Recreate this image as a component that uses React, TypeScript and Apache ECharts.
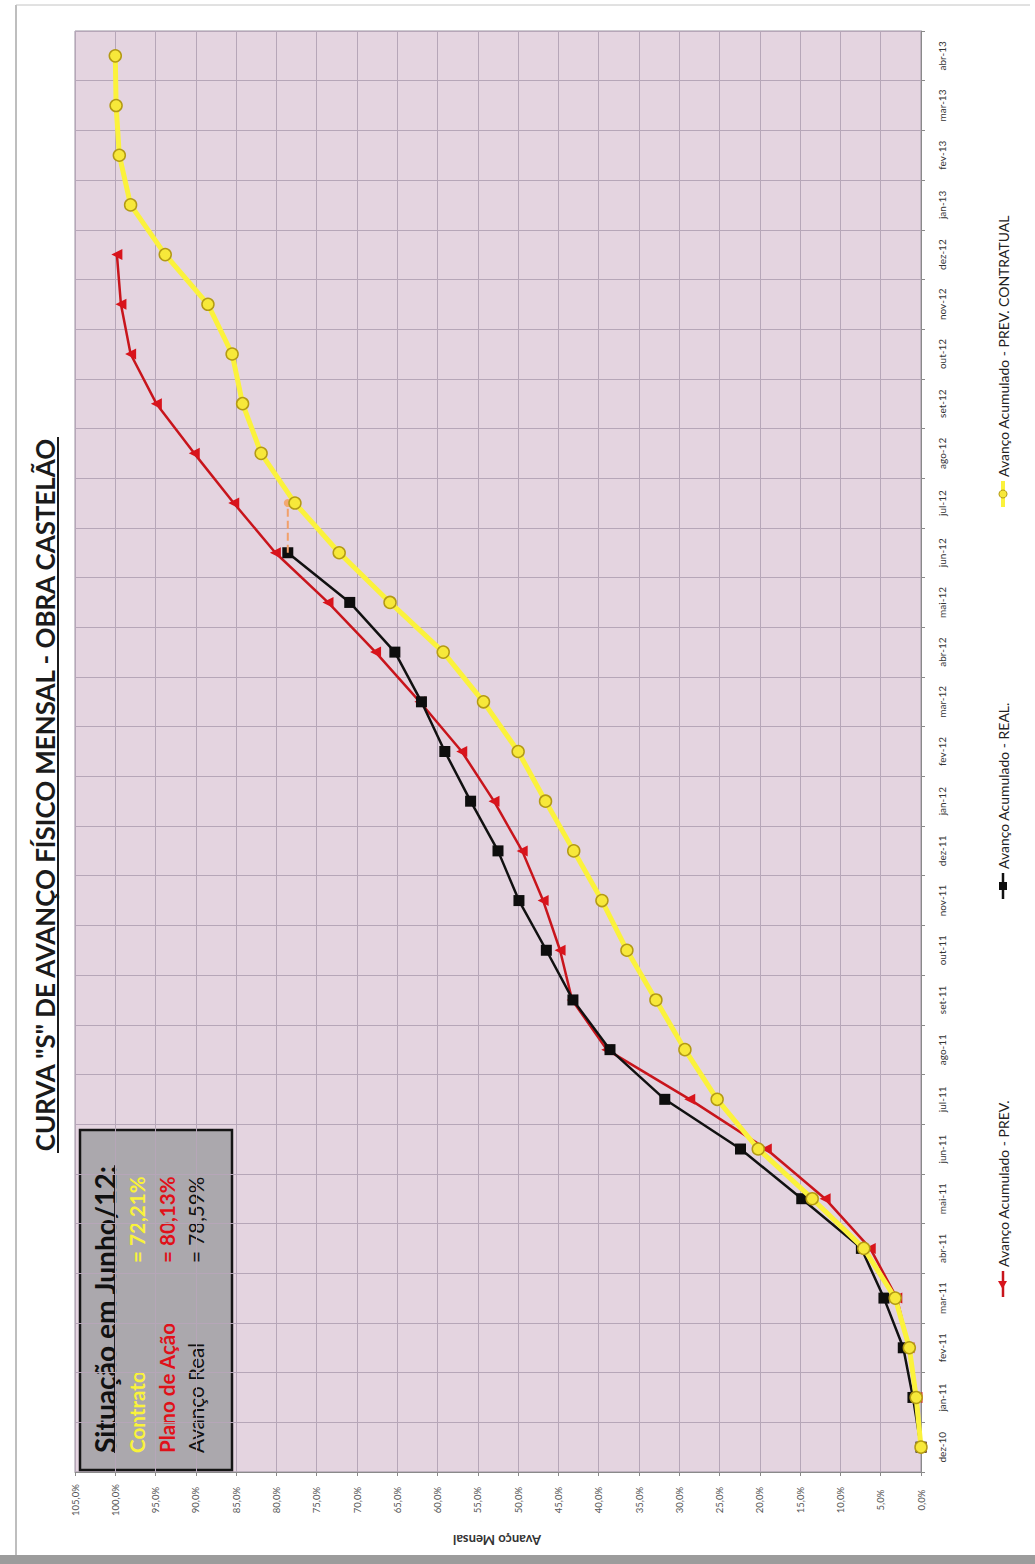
import React, { useEffect, useRef } from "react";
import * as echarts from "echarts";

// ---------- DATA ----------
const months = [
  "dez-10", "jan-11", "fev-11", "mar-11", "abr-11", "mai-11", "jun-11", "jul-11",
  "ago-11", "set-11", "out-11", "nov-11", "dez-11", "jan-12", "fev-12", "mar-12",
  "abr-12", "mai-12", "jun-12", "jul-12", "ago-12", "set-12", "out-12", "nov-12",
  "dez-12", "jan-13", "fev-13", "mar-13", "abr-13",
];

// Avanço Acumulado - PREV. CONTRATUAL (yellow)
const prevContratual = [
  0, 0.6, 1.45, 3.2, 7.1, 13.5, 20.2, 25.3, 29.3, 32.9, 36.5, 39.6, 43.1, 46.6,
  50.0, 54.3, 59.3, 65.9, 72.21, 77.7, 81.9, 84.2, 85.5, 88.5, 93.8, 98.1, 99.5,
  99.9, 100,
];

// Avanço Acumulado - PREV. (Plano de Ação, red)
const prevPlano = [
  0, 0.5, 1.5, 3.0, 6.3, 11.9, 19.2, 28.7, 39.0, 43.3, 44.8, 46.9, 49.5, 53.0,
  57.0, 62.2, 67.7, 73.6, 80.13, 85.3, 90.2, 94.9, 98.1, 99.3, 99.8, null, null,
  null, null,
];

// Avanço Acumulado - REAL. (black)
const real = [
  0, 1.0, 2.2, 4.6, 7.4, 14.8, 22.4, 31.8, 38.6, 43.2, 46.5, 49.9, 52.5, 55.9,
  59.1, 62.0, 65.3, 70.9, 78.59, null, null, null, null, null, null, null, null,
  null, null,
];

// orange dashed projection mark from the last real value
const projecaoMeses = ["jun-12", "jul-12"];
const projecaoValores = [78.59, 78.59];

// value axis
const valueMin = 0;
const valueMax = 105;
const valueStep = 5;

const situacaoMes = "jun-12";
const titleText = 'CURVA "S" DE AVANÇO FÍSICO MENSAL - OBRA CASTELÃO';
const boxTitle = "Situação em Junho/12:";
const axisNameText = "Avanço Mensal";
const legendNames = [
  "Avanço Acumulado - PREV.",
  "Avanço Acumulado - REAL.",
  "Avanço Acumulado - PREV. CONTRATUAL",
];

// ---------- helpers ----------
const FONT = "Lato, 'Noto Sans', sans-serif";

function measure(text: string, weight: string, size: number): number {
  const c = document.createElement("canvas").getContext("2d");
  if (!c) return text.length * size * 0.5;
  c.font = `${weight} ${size}px ${FONT}`;
  return c.measureText(text).width;
}
function fit(text: string, weight: string, target: number): number {
  return (100 * target) / measure(text, weight, 100);
}
const pct2 = (v: number) => v.toFixed(2).replace(".", ",") + "%";
const pct1 = (v: number) => v.toFixed(1).replace(".", ",") + "%";

const RED = "#c8151c";
const YELLOW_LINE = "#fbf23c";
const YELLOW_FILL = "#f7e83a";
const YELLOW_BORDER = "#b39a14";

export default function App() {
  const ref = useRef<HTMLDivElement>(null);

  useEffect(() => {
    if (!ref.current) return;
    const chart = echarts.init(ref.current, undefined, { renderer: "svg" });

    const idx = months.indexOf(situacaoMes);
    const boxRows = [
      { label: "Contrato", value: "= " + pct2(prevContratual[idx] as number), color: "#f9f23a", weight: "bold" },
      { label: "Plano de Ação", value: "= " + pct2(prevPlano[idx] as number), color: "#e01119", weight: "bold" },
      { label: "Avanço Real", value: "= " + pct2(real[idx] as number), color: "#111111", weight: "normal" },
    ];

    // title
    const titleW = 716;
    const titleSize = fit(titleText, "bold", titleW);
    // box
    const boxTitleSize = fit(boxTitle, "bold", 288);
    const rowSize = fit("Plano de Ação", "bold", 131);
    const boxTitleW = measure(boxTitle, "bold", boxTitleSize);
    // legend
    const legSize = fit(legendNames[2], "normal", 262);
    const axisNameSize = fit(axisNameText, "bold", 88);

    const rowY = [57, 87, 116];

    const legendItems = [
      { y0: 1297, name: legendNames[0], color: RED, marker: "triangle" },
      { y0: 899, name: legendNames[1], color: "#111", marker: "rect" },
      { y0: 507, name: legendNames[2], color: YELLOW_LINE, marker: "circle" },
    ];

    const legendGraphics = legendItems.map((it) => {
      let markerEl: any;
      if (it.marker === "triangle") {
        markerEl = {
          type: "polygon",
          shape: { points: [[8, -0.5], [16, -5], [16, 4]] },
          style: { fill: "#d8141c" },
        };
      } else if (it.marker === "rect") {
        markerEl = {
          type: "rect",
          shape: { x: 9, y: -4, width: 8, height: 8 },
          style: { fill: "#0d0d0d" },
        };
      } else {
        markerEl = {
          type: "circle",
          shape: { cx: 13, cy: 0, r: 4 },
          style: { fill: YELLOW_FILL, stroke: YELLOW_BORDER, lineWidth: 1 },
        };
      }
      return {
        type: "group",
        x: 1003,
        y: it.y0,
        rotation: Math.PI / 2,
        children: [
          {
            type: "line",
            shape: { x1: 0, y1: 0, x2: 26, y2: 0 },
            style: { stroke: it.color, lineWidth: it.marker === "circle" ? 4 : 2.5 },
          },
          markerEl,
          {
            type: "text",
            x: 30,
            y: 0,
            style: {
              text: it.name,
              fontSize: legSize,
              fontFamily: FONT,
              fill: "#222",
              align: "left",
              verticalAlign: "middle",
            },
          },
        ],
      };
    });

    const option: any = {
      animation: false,
      backgroundColor: "#ffffff",
      grid: {
        left: 75,
        right: 114,
        top: 31,
        bottom: 92,
        show: true,
        backgroundColor: "#e4d4e0",
        borderColor: "#9a92a0",
        borderWidth: 1,
      },
      xAxis: {
        type: "value",
        inverse: true,
        min: valueMin,
        max: valueMax,
        interval: valueStep,
        axisLine: { show: true, lineStyle: { color: "#8a8a8a" } },
        axisTick: { show: true, length: 4, lineStyle: { color: "#8a8a8a" } },
        splitLine: { show: true, lineStyle: { color: "#b6a6b8", width: 1 } },
        axisLabel: {
          rotate: 90,
          align: "center",
          margin: 28,
          fontSize: 9.5,
          color: "#555",
          fontFamily: FONT,
          formatter: (v: number) => pct1(v),
        },
      },
      yAxis: {
        type: "category",
        position: "right",
        data: months,
        boundaryGap: true,
        axisLine: { show: true, lineStyle: { color: "#8a8a8a" } },
        axisTick: { show: true, length: 4, interval: 0, lineStyle: { color: "#8a8a8a" } },
        splitLine: { show: true, interval: 0, lineStyle: { color: "#b6a6b8", width: 1 } },
        axisLabel: {
          rotate: 90,
          interval: 0,
          margin: 16,
          fontSize: 10,
          color: "#333",
          fontFamily: FONT,
        },
      },
      series: [
        {
          name: legendNames[0],
          type: "line",
          data: prevPlano,
          symbol: "triangle",
          symbolSize: 11,
          symbolRotate: 90,
          showAllSymbol: true,
          lineStyle: { color: RED, width: 2.5 },
          itemStyle: { color: "#d8141c" },
          z: 2,
        },
        {
          name: legendNames[1],
          type: "line",
          data: real,
          symbol: "rect",
          symbolSize: 11,
          showAllSymbol: true,
          lineStyle: { color: "#111", width: 2.5 },
          itemStyle: { color: "#0d0d0d" },
          z: 3,
        },
        {
          name: "Projeção",
          type: "line",
          data: projecaoMeses.map((m, i) => ({
            value: [projecaoValores[i], m],
            symbol: i === 0 ? "none" : "circle",
          })),
          symbolSize: 8,
          lineStyle: { color: "#f2a06a", width: 2, type: "dashed" },
          itemStyle: { color: "#f3a872" },
          z: 3.5,
        },
        {
          name: legendNames[2],
          type: "line",
          data: prevContratual,
          symbol: "circle",
          symbolSize: 12,
          showAllSymbol: true,
          lineStyle: { color: YELLOW_LINE, width: 5 },
          itemStyle: { color: YELLOW_FILL, borderColor: YELLOW_BORDER, borderWidth: 1.5 },
          z: 4,
        },
      ],
      graphic: [
        // scanned page frame
        { type: "line", shape: { x1: 16, y1: 5, x2: 16, y2: 1556 }, style: { stroke: "#a8a8a8", lineWidth: 1.5 }, silent: true },
        { type: "line", shape: { x1: 16, y1: 5, x2: 1030, y2: 5 }, style: { stroke: "#c4c4c4", lineWidth: 1 }, silent: true },
        { type: "rect", shape: { x: 0, y: 1555, width: 1035, height: 9 }, style: { fill: "#9c9c9c" }, silent: true },
        // title
        {
          type: "group",
          x: 45,
          y: 795,
          rotation: Math.PI / 2,
          children: [
            {
              type: "text",
              x: 0,
              y: 0,
              style: {
                text: titleText,
                fontSize: titleSize,
                fontWeight: "bold",
                fontFamily: FONT,
                fill: "#1b1b1b",
                align: "center",
                verticalAlign: "middle",
              },
            },
            {
              type: "line",
              shape: { x1: -titleW / 2, y1: 13, x2: titleW / 2, y2: 13 },
              style: { stroke: "#1b1b1b", lineWidth: 2 },
            },
          ],
        },
        // situation box
        {
          type: "group",
          x: 80,
          y: 1470,
          rotation: Math.PI / 2,
          z: 100,
          children: [
            {
              type: "rect",
              shape: { x: 0, y: 0, width: 340, height: 152 },
              style: { fill: "#aba8ad", stroke: "#151515", lineWidth: 2.5 },
            },
            {
              type: "text",
              x: 17,
              y: 25,
              style: {
                text: boxTitle,
                fontSize: boxTitleSize,
                fontWeight: "bold",
                fontFamily: FONT,
                fill: "#111",
                align: "left",
                verticalAlign: "middle",
              },
            },
            {
              type: "line",
              shape: { x1: 17, y1: 35, x2: 17 + boxTitleW, y2: 35 },
              style: { stroke: "#111", lineWidth: 1.8 },
            },
            ...boxRows.flatMap((r, i) => [
              {
                type: "text",
                x: 17,
                y: rowY[i],
                style: {
                  text: r.label,
                  fontSize: rowSize,
                  fontWeight: r.weight,
                  fontFamily: FONT,
                  fill: r.color,
                  align: "left",
                  verticalAlign: "middle",
                },
              },
              {
                type: "text",
                x: 207,
                y: rowY[i],
                style: {
                  text: r.value,
                  fontSize: rowSize,
                  fontWeight: r.weight,
                  fontFamily: FONT,
                  fill: r.color,
                  align: "left",
                  verticalAlign: "middle",
                },
              },
            ]),
          ],
        },
        // value-axis title (upside down)
        {
          type: "text",
          x: 497,
          y: 1540,
          rotation: Math.PI,
          style: {
            text: axisNameText,
            fontSize: axisNameSize,
            fontWeight: "bold",
            fontFamily: FONT,
            fill: "#333",
            align: "center",
            verticalAlign: "middle",
          },
        },
        ...legendGraphics,
      ],
    };

    chart.setOption(option);
    return () => chart.dispose();
  }, []);

  return (
    <div
      ref={ref}
      style={{ position: "absolute", left: 0, top: 0, width: 1035, height: 1564, background: "#fff" }}
    />
  );
}
